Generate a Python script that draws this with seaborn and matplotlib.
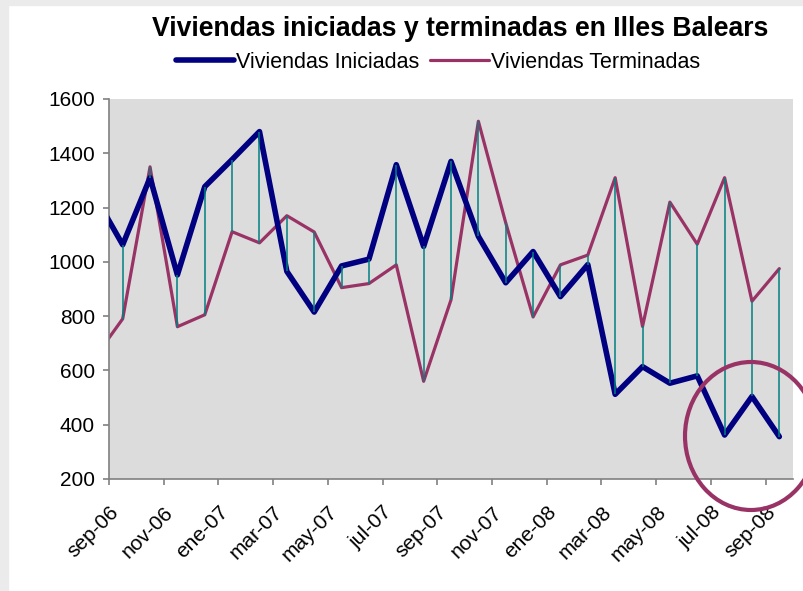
import numpy as np
import pandas as pd
import matplotlib
matplotlib.use("Agg")
import matplotlib.pyplot as plt
from matplotlib.patches import Rectangle, Ellipse
import seaborn as sns

# Datos mensuales (ago-06 queda fuera del eje, solo se ve el tramo de entrada)
meses = ["ago-06", "sep-06", "oct-06", "nov-06", "dic-06", "ene-07", "feb-07", "mar-07",
         "abr-07", "may-07", "jun-07", "jul-07", "ago-07", "sep-07", "oct-07", "nov-07",
         "dic-07", "ene-08", "feb-08", "mar-08", "abr-08", "may-08", "jun-08", "jul-08",
         "ago-08", "sep-08"]
iniciadas = [1240, 1063, 1310, 952, 1277, 1377, 1480, 965, 815, 985, 1010, 1358, 1057,
             1370, 1094, 923, 1038, 872, 990, 512, 614, 553, 580, 362, 504, 356]
terminadas = [650, 790, 1350, 761, 805, 1111, 1070, 1170, 1110, 905, 920, 989, 560,
              860, 1518, 1144, 797, 989, 1025, 1310, 762, 1220, 1065, 1310, 855, 975]
etiquetas = ["sep-06", "nov-06", "ene-07", "mar-07", "may-07", "jul-07", "sep-07",
             "nov-07", "ene-08", "mar-08", "may-08", "jul-08", "sep-08"]

df = pd.DataFrame({"mes": meses, "pos": np.arange(len(meses)),
                   "Viviendas Iniciadas": iniciadas, "Viviendas Terminadas": terminadas})

sns.set_theme(style="white")
plt.rcParams["font.family"] = ["Liberation Sans", "DejaVu Sans"]
plt.rcParams["text.color"] = "black"

W, H = 804, 591
fig = plt.figure(figsize=(W / 100, H / 100), dpi=100, facecolor="white")
ax = fig.add_axes([109 / W, 1 - 479 / H, (793 - 109) / W, (479 - 99) / H])
ax.set_facecolor("#dcdcdc")

# marco gris exterior
fig.patches.append(Rectangle((0, 0), 8 / W, 1, transform=fig.transFigure,
                             color="#ebebeb", zorder=0))
fig.patches.append(Rectangle((0, 1 - 5 / H), 1, 5 / H, transform=fig.transFigure,
                             color="#ebebeb", zorder=0))

sns.lineplot(data=df, x="pos", y="Viviendas Iniciadas", color="#000080", lw=4,
             ax=ax, label="Viviendas Iniciadas", zorder=3)
sns.lineplot(data=df, x="pos", y="Viviendas Terminadas", color="#993366", lw=2.3,
             ax=ax, label="Viviendas Terminadas", zorder=2)

# lineas de maximo-minimo
lo = np.minimum(df["Viviendas Iniciadas"], df["Viviendas Terminadas"])
hi = np.maximum(df["Viviendas Iniciadas"], df["Viviendas Terminadas"])
ax.vlines(df["pos"], lo, hi, color="#008080", lw=1.1, zorder=4)

ax.set_xlim(0.5, 25.5)
ax.set_ylim(200, 1600)
ax.set_yticks(range(200, 1601, 200))
ax.set_xticks(np.arange(0.5, 25, 2))
ax.set_xticklabels(etiquetas, rotation=45, ha="right", rotation_mode="anchor")
ax.set_xlabel("")
ax.set_ylabel("")

for s in ["top", "right"]:
    ax.spines[s].set_visible(False)
for s in ["left", "bottom"]:
    ax.spines[s].set_color("#808080")
    ax.spines[s].set_linewidth(1.2)
ax.tick_params(axis="both", direction="out", length=4, width=1.2, color="#808080",
               labelsize=15, labelcolor="black")
ax.tick_params(axis="x", pad=13, bottom=True)
ax.tick_params(axis="y", pad=6, left=True)

fig.text(460 / W, 1 - 29 / H, "Viviendas iniciadas y terminadas en Illes Balears",
         ha="center", va="center", fontsize=19.2, fontweight="bold", color="black")

leg = ax.legend(loc="center", bbox_to_anchor=(438 / W, 1 - 62 / H),
                bbox_transform=fig.transFigure, ncol=2, frameon=False, fontsize=15.5,
                handlelength=2.7, handletextpad=0.1, columnspacing=0.5, borderpad=0)
for t in leg.get_texts():
    t.set_color("black")

# circulo destacando los ultimos meses
fig.patches.append(Ellipse((751 / W, 1 - 436 / H), 132 / W, 148 / H,
                           transform=fig.transFigure, fill=False, ec="#993366",
                           lw=3, zorder=10))

fig.savefig("out.png", dpi=100)
